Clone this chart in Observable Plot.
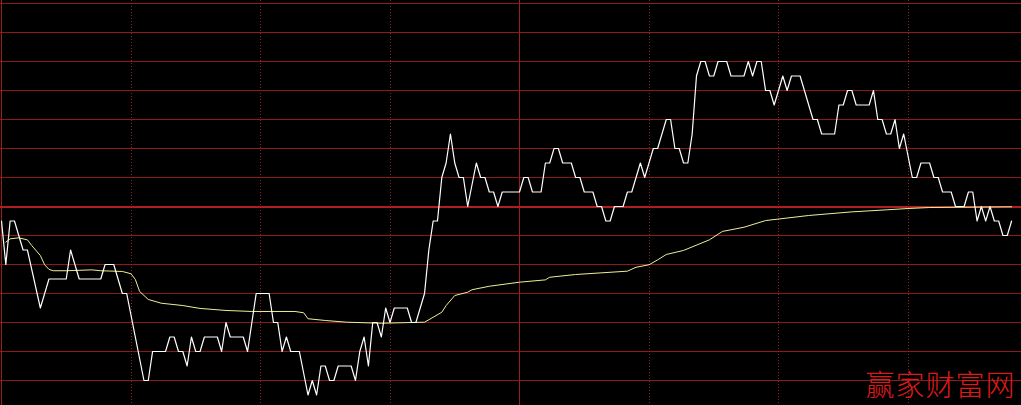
<!DOCTYPE html>
<html>
<head>
<meta charset="utf-8">
<script src="https://cdn.jsdelivr.net/npm/d3@7"></script>
<script src="https://cdn.jsdelivr.net/npm/@observablehq/plot@0.6"></script>
<style>
  html, body { margin: 0; padding: 0; background: #000; overflow: hidden; }
  #chart svg { display: block; }
</style>
</head>
<body>
<div id="chart"></div>
<script>
// Intraday minute chart: values are price change in ticks vs. previous close
const priceMinutes = [0,1,2,3,5,6,9,11,15,16,18,23,24,26,28,29,33,34,35,38,39,40,41,42,43,44,45,46,47,50,51,52,53,56,57,59,62,63,64,65,66,67,69,71,72,73,74,75,76,77,78,81,82,83,84,85,86,87,88,89,90,91,94,95,96,98,99,100,101,102,103,104,105,106,107,108,110,111,112,113,114,115,116,120,121,122,123,125,126,127,128,129,130,132,133,134,135,137,138,139,140,141,142,144,145,146,148,149,151,152,154,155,156,157,158,159,160,161,162,163,164,165,166,168,169,172,173,174,175,176,177,178,179,181,182,183,185,186,188,189,190,193,194,195,196,197,198,201,202,203,204,205,206,207,208,209,211,212,213,215,216,217,218,220,221,223,224,225,226,227,228,229,230,231,232,233,234];
const priceTicks = [-1,-4,-1,-1,-3,-3,-7,-5,-5,-3,-5,-5,-4,-4,-6,-6,-12,-12,-10,-10,-9,-9,-10,-10,-11,-9,-10,-10,-9,-9,-10,-8,-9,-9,-10,-6,-6,-8,-8,-10,-9,-10,-10,-13,-12,-13,-11,-11,-12,-12,-11,-11,-12,-10,-9,-11,-8,-8,-9,-7,-8,-7,-7,-8,-8,-6,-3,-1,-1,2,3,5,3,2,2,0,3,2,2,1,1,0,1,1,2,2,1,1,3,3,4,4,3,3,2,2,1,1,0,0,-1,-1,0,0,1,1,3,2,4,4,6,6,4,4,3,3,5,9,10,10,9,9,10,10,9,9,10,9,10,10,8,8,7,9,8,9,9,8,6,6,5,5,7,7,8,8,7,7,8,6,6,5,5,6,4,5,2,2,3,3,2,2,1,1,0,0,1,1,-1,0,-1,0,-1,-1,-2,-2,-1];

const avgMinutes = [1,2,4,6,7,9,10,11,12,15,21,23,28,30,31,32,34,37,42,46,52,58,68,70,71,75,80,88,98,99,102,103,105,108,109,113,120,126,127,133,145,147,150,152,154,158,164,167,172,177,187,197,205,210,215,234];
const avgTicks = [-2.46,-2.23,-2.16,-2.30,-2.69,-3.38,-4.02,-4.34,-4.43,-4.43,-4.37,-4.43,-4.48,-4.64,-5.03,-5.86,-6.41,-6.67,-6.83,-7.03,-7.17,-7.24,-7.24,-7.33,-7.74,-7.86,-7.98,-8.05,-7.98,-7.81,-7.29,-6.83,-6.14,-5.91,-5.74,-5.50,-5.22,-5.06,-4.88,-4.69,-4.46,-4.19,-4.02,-3.68,-3.31,-3.03,-2.30,-1.72,-1.43,-0.97,-0.62,-0.37,-0.23,-0.14,-0.07,-0.02];

const gridTicks = [-14,-12,-10,-8,-6,-4,-2,2,4,6,8,10,12,14];
const zeroTick = [0];
const sessionMinutesSolid = [0,120];
const sessionMinutesDotted = [30,60,90,150,180,210];
const watermark = ["赢家财富网"];

const price = priceMinutes.map((m, i) => ({minute: m, ticks: priceTicks[i]}));
const avg = avgMinutes.map((m, i) => ({minute: m, ticks: avgTicks[i]}));

const chart = Plot.plot({
  width: 1021,
  height: 405,
  margin: 0,
  style: {background: "#000", overflow: "hidden"},
  x: {domain: [0, 240], range: [1, 1037], axis: null},
  y: {domain: [-14, 14], range: [409, 3], axis: null},
  marks: [
    Plot.ruleY(gridTicks, {stroke: "#8c1a1a", strokeWidth: 1, shapeRendering: "crispEdges"}),
    Plot.ruleX(sessionMinutesDotted, {stroke: "#902020", strokeWidth: 1, strokeDasharray: "1,2", shapeRendering: "crispEdges"}),
    Plot.ruleX(sessionMinutesSolid, {stroke: "#9a1c1c", strokeWidth: 1, shapeRendering: "crispEdges"}),
    Plot.ruleY(zeroTick, {stroke: "#b01e1e", strokeWidth: 2, shapeRendering: "crispEdges"}),
    Plot.line(avg, {x: "minute", y: "ticks", stroke: "#eeee98", strokeWidth: 1, curve: "linear"}),
    Plot.line(price, {x: "minute", y: "ticks", stroke: "#ffffff", strokeWidth: 1.2, curve: "linear"}),
    Plot.text(watermark, {
      frameAnchor: "bottom-right", text: d => d, textAnchor: "end", lineAnchor: "bottom",
      dx: -6, dy: -10, fill: "#dc1a1a", fontSize: 29,
      fontFamily: "Noto Sans CJK SC", fontWeight: 300
    })
  ]
});
chart.querySelectorAll("text").forEach(t => t.style.letterSpacing = "1px");
document.getElementById("chart").appendChild(chart);
</script>
</body>
</html>
